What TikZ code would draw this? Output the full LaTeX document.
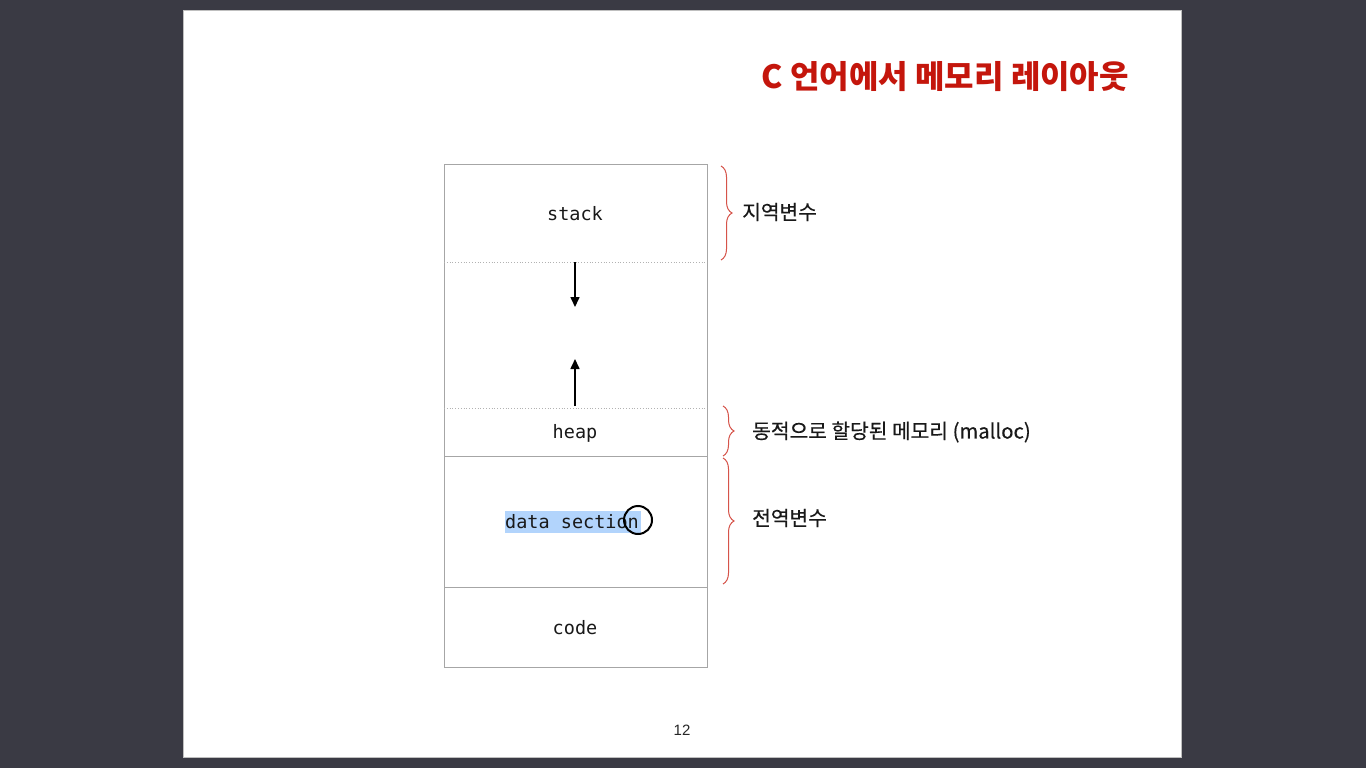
\documentclass[tikz,border=0pt]{standalone}
\usepackage{fontspec}
\setmainfont{Noto Sans CJK KR}
\setmonofont{DejaVu Sans Mono}
\newfontfamily\numfont{Liberation Sans}
\newfontfamily\labfont{Noto Sans CJK KR}[FakeBold=0.4]
\usetikzlibrary{decorations.pathreplacing,arrows.meta}
\definecolor{bgdark}{RGB}{58,58,68}
\definecolor{titlered}{RGB}{196,22,12}
\definecolor{bracered}{RGB}{214,84,74}
\definecolor{hl}{RGB}{178,212,252}
\begin{document}
\begin{tikzpicture}[x=1pt,y=-1pt,
  boxline/.style={draw=black!35, line width=1pt},
  dotline/.style={draw=black!30, line width=0.8pt, dotted},
  mono/.style={font=\ttfamily\fontsize{18.5}{22}\selectfont, text=black!90, inner sep=0pt},
  lab/.style={font=\labfont\fontsize{20.3}{24}\selectfont, text=black!90, anchor=west, inner sep=0pt},
  arr/.style={draw=black, line width=1.6pt, -{Triangle[length=10pt,width=9pt]}},
  bracedec/.style={draw=bracered, line width=1pt, decorate, decoration={brace, amplitude=11pt}}]
\useasboundingbox (0,0) rectangle (1366,768);
\fill[bgdark] (0,0) rectangle (1366,768);
\draw[draw=black!25, fill=white, line width=1.2pt] (183.5,10.5) rectangle (1181.5,757.5);
% title
\node[anchor=east, inner sep=0pt, text=titlered, font=\bfseries\fontsize{32}{36}\selectfont] (title) at (1129,77) {C 언어에서 메모리 레이아웃};
% memory box
\draw[boxline] (444,164) rectangle (707,667);
\draw[dotline] (444,262) -- (707,262);
\draw[dotline] (444,408) -- (707,408);
\draw[boxline] (444,456) -- (707,456);
\draw[boxline] (444,587) -- (707,587);
% highlight
\fill[hl] (505,511) rectangle (641,533);
% section labels
\node[mono] (stack) at (575,214) {stack};
\node[mono] (heap) at (575,433) {heap};
\node[mono, anchor=west] (data) at (505,522) {data section};
\node[mono] (code) at (575,628) {code};
% cursor ring
\node[draw=black, line width=2pt, circle, minimum size=28pt, inner sep=0pt] (cursor) at (638,520) {};
% growth arrows
\coordinate (sd1) at (575,262);
\coordinate (sd2) at (575,307);
\coordinate (hu1) at (575,406);
\coordinate (hu2) at (575,359);
\draw[arr] (sd1) -- (sd2);
\draw[arr] (hu1) -- (hu2);
% braces
\coordinate (b1t) at (721,166);
\coordinate (b1b) at (721,260);
\coordinate (b2t) at (723,406);
\coordinate (b2b) at (723,456);
\coordinate (b3t) at (723,458);
\coordinate (b3b) at (723,584);
\draw[bracedec] (b1t) -- (b1b);
\draw[bracedec] (b2t) -- (b2b);
\draw[bracedec] (b3t) -- (b3b);
% brace labels
\node[lab] (l1) at (742,212) {지역변수};
\node[lab] (l2) at (752,432) {동적으로 할당된 메모리 (malloc)};
\node[lab] (l3) at (752,518) {전역변수};
% page number
\node[inner sep=0pt, font=\numfont\fontsize{15}{18}\selectfont, text=black!85] (page) at (682,730) {12};
\end{tikzpicture}
\end{document}
